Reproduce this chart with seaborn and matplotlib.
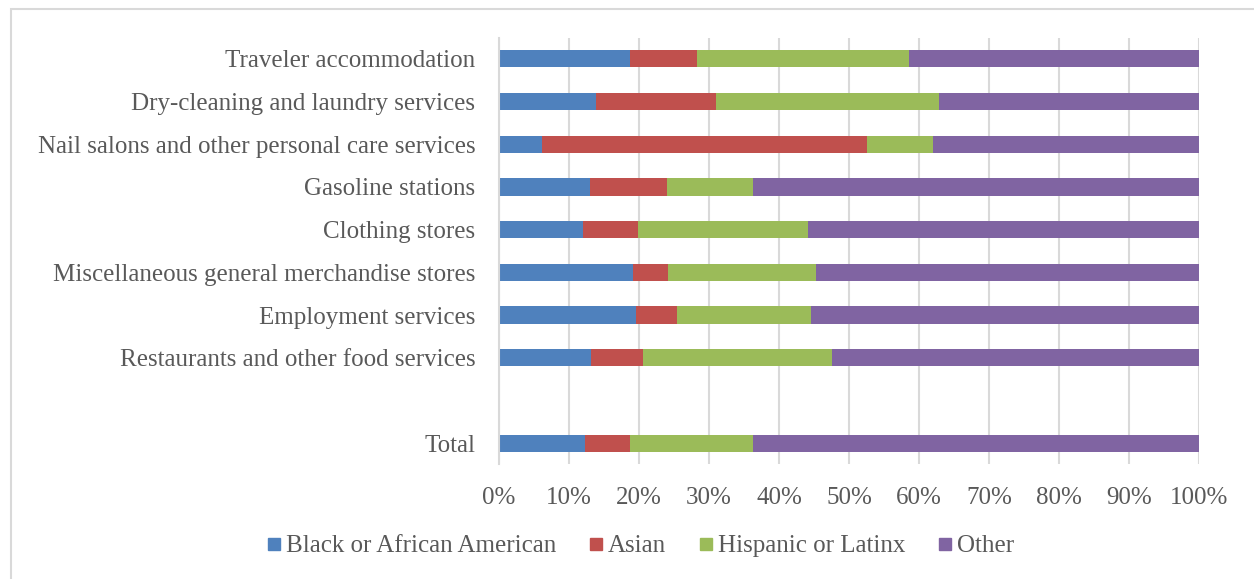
import matplotlib
matplotlib.use("Agg")
import matplotlib.pyplot as plt
import seaborn as sns
import pandas as pd
import numpy as np
from matplotlib.patches import Rectangle
from matplotlib.lines import Line2D

categories = [
    "Traveler accommodation",
    "Dry-cleaning and laundry services",
    "Nail salons and other personal care services",
    "Gasoline stations",
    "Clothing stores",
    "Miscellaneous general merchandise stores",
    "Employment services",
    "Restaurants and other food services",
    "Total",
]
black = [18.7, 13.9, 6.1, 13.0, 12.0, 19.1, 19.6, 13.1, 12.3]
asian = [9.6, 17.1, 46.4, 11.0, 7.9, 5.1, 5.8, 7.5, 6.4]
hispanic = [30.3, 31.9, 9.5, 12.3, 24.3, 21.1, 19.2, 26.9, 17.6]
other = [41.4, 37.1, 38.0, 63.7, 55.8, 54.7, 55.4, 52.5, 63.7]

series_names = ["Black or African American", "Asian", "Hispanic or Latinx", "Other"]
colors = ["#4F81BD", "#C0504D", "#9BBB59", "#8064A2"]
xticks = [0, 10, 20, 30, 40, 50, 60, 70, 80, 90, 100]

order = categories[:8] + [" "] + ["Total"]

df = pd.DataFrame({"category": categories, "s0": black, "s1": asian,
                   "s2": hispanic, "s3": other})
vals = df[["s0", "s1", "s2", "s3"]].to_numpy()
cum = np.cumsum(vals, axis=1)

sns.set_theme(style="white")
plt.rcParams['font.family'] = ['Liberation Serif', 'DejaVu Serif']
text_color = "#595959"
fs = 18

fig = plt.figure(figsize=(12.54, 5.79), dpi=100)
ax = fig.add_axes([499/1254, 1 - 464.4/579, 700/1254, 426.8/579])

for i in range(3, -1, -1):
    sns.barplot(x=cum[:, i], y=df["category"], order=order, orient="h",
                color=colors[i], width=0.4, saturation=1, linewidth=0, ax=ax)

ax.set_xlim(0, 100)
ax.set_xticks(xticks)
ax.set_xticklabels([f"{t}%" for t in xticks])
ax.set_xlabel("")
ax.set_ylabel("")
ax.set_axisbelow(True)
ax.xaxis.grid(True, color="#D9D9D9", linewidth=1.5)
ax.yaxis.grid(False)
for s in ["top", "right", "bottom"]:
    ax.spines[s].set_visible(False)
ax.spines["left"].set_color("#D9D9D9")
ax.spines["left"].set_linewidth(1.5)
ax.tick_params(axis="x", length=0, pad=16, labelsize=fs, labelcolor=text_color)
ax.tick_params(axis="y", length=0, pad=17, labelsize=fs, labelcolor=text_color)

handles = [Line2D([0], [0], marker="s", linestyle="none", markersize=9,
                  markerfacecolor=c, markeredgecolor=c) for c in colors]
fig.legend(handles, series_names, loc="center", bbox_to_anchor=(639/1254, 1 - 546/579),
           ncol=4, frameon=False, fontsize=fs, labelcolor=text_color,
           handletextpad=0.08, columnspacing=1.2, handlelength=0.8)

fig.patches.append(Rectangle((11/1254, -0.05), 1.1, 1 - 9/579 + 0.05,
                             transform=fig.transFigure, fill=False,
                             edgecolor="#D9D9D9", linewidth=1.5, clip_on=False))

fig.savefig("out.png", dpi=100, facecolor="white")
